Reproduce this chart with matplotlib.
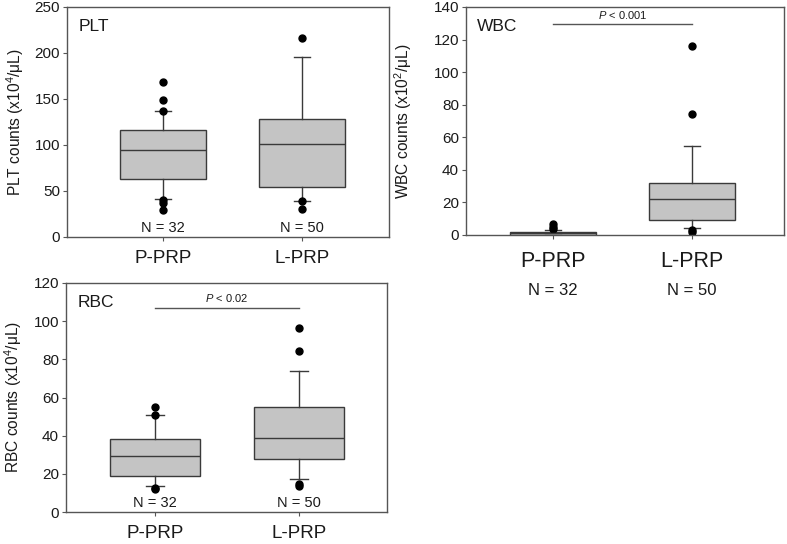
import matplotlib
matplotlib.use("Agg")
import matplotlib.pyplot as plt

plt.rcParams['font.family'] = ['Liberation Sans', 'DejaVu Sans']
plt.rcParams['mathtext.fontset'] = 'custom'
plt.rcParams['mathtext.rm'] = 'Liberation Sans'
plt.rcParams['mathtext.it'] = 'Liberation Sans:italic'
plt.rcParams['mathtext.default'] = 'regular'

groups = ["P-PRP", "L-PRP"]
n_labels = ["N = 32", "N = 50"]

# PLT (x10^4/uL)
plt_q1 = [63.5, 54.5]
plt_med = [94.5, 101.0]
plt_q3 = [116.0, 128.5]
plt_wlo = [41.0, 39.5]
plt_whi = [137.0, 196.0]
plt_fliers = [[169.0, 149.0, 137.5, 40.0, 37.0, 29.5], [216.5, 39.0, 30.0]]

# WBC (x10^2/uL)
wbc_q1 = [0.3, 9.2]
wbc_med = [1.0, 21.8]
wbc_q3 = [1.8, 31.8]
wbc_wlo = [0.1, 4.5]
wbc_whi = [3.2, 54.7]
wbc_fliers = [[7.0, 5.0, 3.6], [115.9, 74.0, 3.0, 1.8]]

# RBC (x10^4/uL)
rbc_q1 = [19.0, 28.0]
rbc_med = [29.2, 39.0]
rbc_q3 = [38.0, 55.0]
rbc_wlo = [13.8, 17.3]
rbc_whi = [51.0, 73.8]
rbc_fliers = [[55.2, 50.9, 12.5, 12.0], [96.2, 84.2, 14.6, 13.8]]

W, H = 787, 544
fig = plt.figure(figsize=(W / 100, H / 100), dpi=100)

def rect(x0, y0, x1, y1):
    return [x0 / W, 1 - y1 / H, (x1 - x0) / W, (y1 - y0) / H]

SPINE = '#555555'
EDGE = '#3a3a3a'
TXT = '#1a1a1a'

def panel(r, xlim, ylim, yticks, q1, med, q3, wlo, whi, fliers, ylabel, name,
          n_inside, xfs, xpad, ylpad, sig=None):
    ax = fig.add_axes(rect(*r))
    stats = []
    for i in range(2):
        stats.append(dict(q1=q1[i], med=med[i], q3=q3[i], whislo=wlo[i],
                          whishi=whi[i], fliers=fliers[i], label=groups[i]))
    ax.bxp(stats, positions=[1, 2], widths=0.62, patch_artist=True,
           boxprops=dict(facecolor='#c4c4c4', edgecolor=EDGE, linewidth=1.0),
           medianprops=dict(color=EDGE, linewidth=1.0),
           whiskerprops=dict(color=EDGE, linewidth=1.0),
           capprops=dict(color=EDGE, linewidth=1.0),
           capwidths=0.12,
           flierprops=dict(marker='o', markerfacecolor='black',
                           markeredgecolor='black', markersize=5))
    ax.set_xlim(*xlim)
    ax.set_ylim(*ylim)
    ax.set_yticks(yticks)
    ax.set_xticks([1, 2])
    ax.set_xticklabels(groups, fontsize=xfs, color=TXT)
    for s in ax.spines.values():
        s.set_color(SPINE)
        s.set_linewidth(1.0)
    ax.tick_params(axis='y', direction='out', length=3, color=SPINE,
                   labelsize=11, labelcolor=TXT, pad=2)
    ax.tick_params(axis='x', direction='out', length=3, color=SPINE,
                   pad=xpad, labelcolor=TXT)
    ax.set_ylabel(ylabel, fontsize=11.2, color=TXT, labelpad=ylpad)
    ax.text(0.035, 0.915, name, transform=ax.transAxes, fontsize=12.5,
            color=TXT, va='center', ha='left')
    if n_inside:
        for i in range(2):
            ax.text(i + 1, ylim[1] * 0.04, n_labels[i], ha='center',
                    va='center', fontsize=10.5, color=TXT)
    else:
        for i in range(2):
            ax.annotate(n_labels[i], xy=(i + 1, 0), xycoords=('data', 'axes fraction'),
                        xytext=(0, -43), textcoords='offset points',
                        ha='center', va='baseline', fontsize=12, color=TXT)
    if sig is not None:
        y, txt = sig
        ax.plot([1, 2], [y, y], color='#555555', linewidth=1.0)
        ax.text(1.5, y + (ylim[1] - ylim[0]) * 0.015, txt, ha='center',
                va='bottom', fontsize=8, color=TXT)
    return ax

panel((67, 7, 389, 237), (0.309, 2.626), (0, 250), [0, 50, 100, 150, 200, 250],
      plt_q1, plt_med, plt_q3, plt_wlo, plt_whi, plt_fliers,
      'PLT counts (x10$^{4}$/μL)', 'PLT', True, 13.5, 6.5, 6)

panel((466, 7, 784, 235), (0.374, 2.662), (0, 140), [0, 20, 40, 60, 80, 100, 120, 140],
      wbc_q1, wbc_med, wbc_q3, wbc_wlo, wbc_whi, wbc_fliers,
      'WBC counts (x10$^{2}$/μL)', 'WBC', False, 15.5, 8.5, 14,
      sig=(129.6, '$\\it{P}$ < 0.001'))

panel((66, 283, 387, 512), (0.382, 2.611), (0, 120), [0, 20, 40, 60, 80, 100, 120],
      rbc_q1, rbc_med, rbc_q3, rbc_wlo, rbc_whi, rbc_fliers,
      'RBC counts (x10$^{4}$/μL)', 'RBC', True, 13.5, 6.5, 7,
      sig=(107.0, '$\\it{P}$ < 0.02'))

fig.savefig('out.png', dpi=100)
